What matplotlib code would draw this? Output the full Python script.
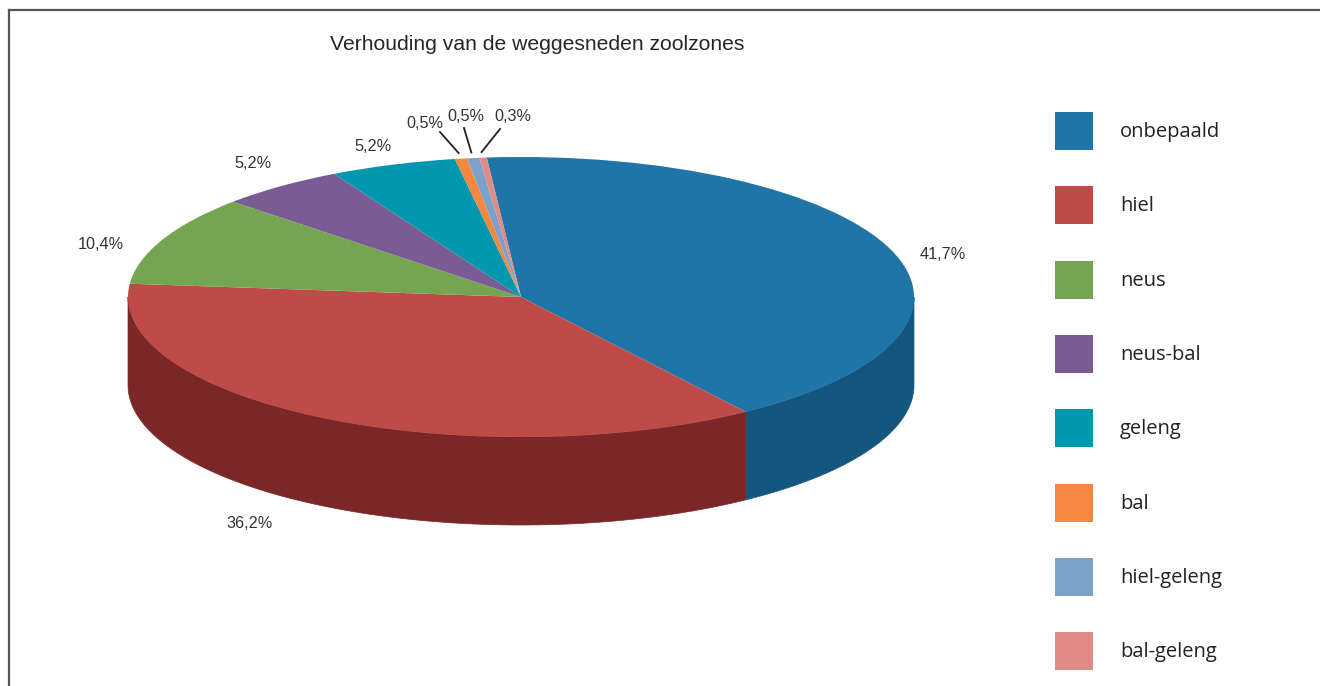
import numpy as np
import matplotlib.pyplot as plt
from matplotlib.patches import Polygon
from matplotlib.lines import Line2D

# --------------------------- DATA ---------------------------

zones = ['onbepaald', 'hiel', 'neus', 'neus-bal', 'geleng', 'bal', 'hiel-geleng', 'bal-geleng']
share = [41.7, 36.2, 10.4, 5.2, 5.2, 0.5, 0.5, 0.3]
pct_labels = ['41,7%', '36,2%', '10,4%', '5,2%', '5,2%', '0,5%', '0,5%', '0,3%']

top_colors = ['#1F74A8', '#BE4B48', '#76A551', '#7A5C95', '#0097AF', '#F5883E', '#7DA2C9', '#E08B88']
side_colors = ['#15567F', '#7B2728', '#4F7236', '#533E66', '#006878', '#B45F26', '#56718F', '#A35F5C']

# --------------------------- LAYOUT (pixels) ---------------------------

W, H = 1320, 686
cx, cy = 521, 297          # centre of the top ellipse
rx, ry, depth = 393, 140, 88

# label centres, leader line starts (only for the tiny slices)
label_pos = [(943, 254), (250, 523), (101, 244), (253, 163), (373, 146),
             (425, 123), (466, 116), (513, 116)]
leader_start = {5: (440, 132), 6: (464, 128), 7: (500, 129)}

fig = plt.figure(figsize=(W / 100, H / 100), dpi=100)
ax = fig.add_axes([0, 0, 1, 1])

wedges, _ = ax.pie(share, colors=top_colors, startangle=95, counterclock=False,
                   radius=1, wedgeprops=dict(linewidth=0.3, edgecolor='none'))
for w in wedges:
    w.set_zorder(2)

ax.set_aspect('auto')
ax.set_xlim(-cx / rx, (W - cx) / rx)
ax.set_ylim(-(H - cy) / ry, cy / ry)
ax.axis('off')

# --------------------------- 3D SIDE WALLS ---------------------------

d = depth / ry
for w, c in zip(wedges, side_colors):
    for k in (-360, 0, 360):
        lo = max(w.theta1, -180 + k)
        hi = min(w.theta2, k)
        if hi > lo:
            t = np.radians(np.linspace(lo, hi, 200))
            x = np.cos(t)
            y = np.sin(t)
            pts = np.column_stack([np.concatenate([x, x[::-1]]),
                                   np.concatenate([y, y[::-1] - d])])
            ax.add_patch(Polygon(pts, closed=True, fc=c, ec=c, lw=0.5, zorder=1))


def to_data(p):
    return (p[0] - cx) / rx, (cy - p[1]) / ry


# --------------------------- LABELS ---------------------------

for i, (txt, pos) in enumerate(zip(pct_labels, label_pos)):
    tx, ty = to_data(pos)
    ax.text(tx, ty, txt, ha='center', va='center', fontsize=11.7,
            family='Liberation Sans', color='#333333', zorder=3)
    if i in leader_start:
        w = wedges[i]
        mid = np.radians((w.theta1 + w.theta2) / 2)
        sx, sy = to_data(leader_start[i])
        ax.plot([sx, 1.04 * np.cos(mid)], [sy, 1.04 * np.sin(mid)],
                color='#222222', lw=1.3, zorder=3)

fig.text(537 / W, 1 - 44 / H, 'Verhouding van de weggesneden zoolzones',
         ha='center', va='center', fontsize=15.2, family='Liberation Sans', color='#262626')

fig.legend(wedges, zones, loc='upper left', bbox_to_anchor=(1055 / W, 1 - 112 / H),
           frameon=False, handlelength=1.89, handleheight=2.53, handletextpad=1.34,
           labelspacing=1.8, borderpad=0, borderaxespad=0,
           prop={'family': 'Open Sans', 'size': 14.5}, labelcolor='#222222')

# --------------------------- FRAME ---------------------------

fig.add_artist(Line2D([9 / W, 9 / W], [0, 1 - 10 / H], color='#555555', lw=1.6))
fig.add_artist(Line2D([9 / W, 1], [1 - 10 / H, 1 - 10 / H], color='#555555', lw=1.6))

fig.savefig('out.png', dpi=100, facecolor='white')
